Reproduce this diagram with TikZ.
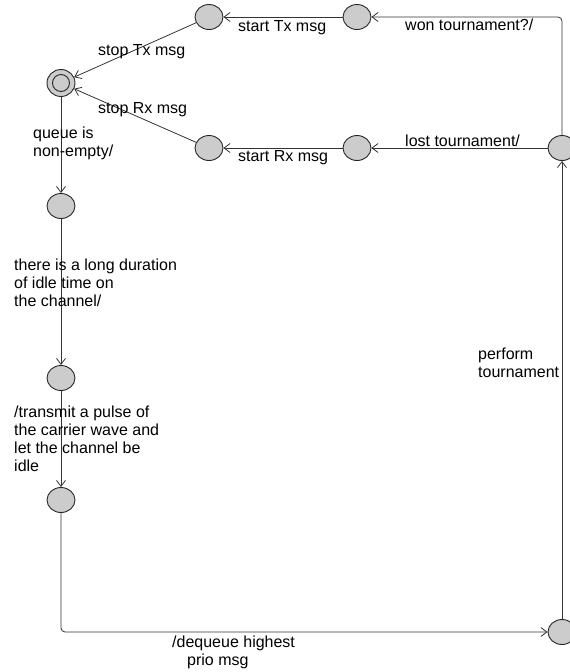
\documentclass[tikz,border=0pt]{standalone}
\usepackage{fontspec}
\setmainfont{Liberation Sans}
\usetikzlibrary{arrows.meta,shapes.geometric}
\begin{document}
\begin{tikzpicture}[x=1pt,y=-1pt,
  state/.style={draw=black!85, ellipse, fill=black!20, minimum width=28pt, minimum height=25pt, inner sep=0pt, line width=0.9pt},
  arr/.style={draw=black!80, line width=0.8pt, -{Straight Barb[length=6pt,width=9pt]}, rounded corners=4pt},
  lbl/.style={inner sep=0pt, anchor=base west, align=left, font=\fontsize{16}{18}\selectfont}]
\useasboundingbox (0,0) rectangle (570,672);
% states
\node[state, minimum width=28pt, minimum height=27pt] (init) at (61,83) {};
\draw[draw=black!85, line width=0.9pt, fill=black!20] (init.center) ellipse (8.5 and 8.5);
\node[state] (tx2) at (209,17) {};
\node[state] (tx1) at (357,17) {};
\node[state] (rx2) at (209,148) {};
\node[state] (rx1) at (357,148) {};
\node[state] (tour) at (562,148) {};
\node[state] (s1) at (61,206) {};
\node[state] (s2) at (61,378) {};
\node[state] (s3) at (61,500) {};
\node[state] (br) at (562,632) {};
% connectors
\draw[arr] (tour.north) |- (tx1.east);
\draw[arr] (tour.west) -- (rx1.east);
\draw[arr] (tx1.west) -- (tx2.east);
\draw[arr] (rx1.west) -- (rx2.east);
\draw[arr] (tx2) -- (init);
\draw[arr] (rx2) -- (init);
\draw[arr] (init) -- (s1);
\draw[arr] (s1) -- (s2);
\draw[arr] (s2) -- (s3);
\draw[arr] (s3.south) |- (br.west);
\draw[arr] (br.north) -- (tour.south);
% labels (base = baseline of last line)
\node[lbl] (l1) at (238,31) {start Tx msg};
\node[lbl] (l2) at (98,55) {stop Tx msg};
\node[lbl] (l3) at (98,113) {stop Rx msg};
\node[lbl] (l4) at (238,161) {start Rx msg};
\node[lbl] (l5) at (405,30) {won tournament?/};
\node[lbl] (l6) at (405,146) {lost tournament/};
\node[lbl] (l7) at (33,156) {queue is\\non-empty/};
\node[lbl] (l8) at (14,306) {there is a long duration\\of idle time on\\the channel/};
\node[lbl] (l9) at (14,471) {/transmit a pulse of\\the carrier wave and\\let the channel be\\idle};
\node[lbl] (l10) at (172,665) {/dequeue highest\\\hspace*{15pt}prio msg};
\node[lbl] (l11) at (478,377) {perform\\tournament};
\end{tikzpicture}
\end{document}
